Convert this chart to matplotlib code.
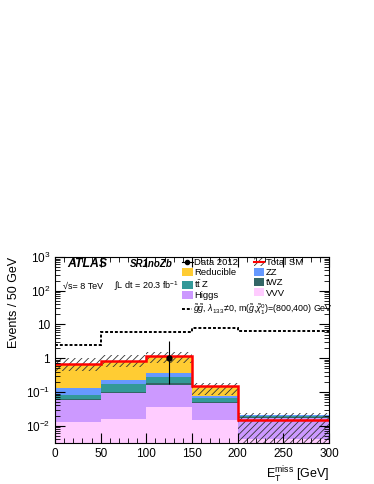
import matplotlib
matplotlib.use("Agg")
import matplotlib.pyplot as plt
import numpy as np
from matplotlib.patches import Patch
from matplotlib.lines import Line2D
from matplotlib.ticker import FixedLocator, MultipleLocator, LogLocator, NullFormatter

plt.rcParams['font.family'] = ['Liberation Sans', 'DejaVu Sans']
plt.rcParams['mathtext.fontset'] = 'custom'
plt.rcParams['mathtext.rm'] = 'Liberation Sans'
plt.rcParams['mathtext.it'] = 'Liberation Sans:italic'
plt.rcParams['hatch.linewidth'] = 0.6

# binning in E_T^miss [GeV]
edges = [0, 50, 100, 150, 200, 300]

# stacked backgrounds (bottom -> top)
vvv = [0.013, 0.016, 0.035, 0.015, 0.004]
higgs = [0.043, 0.077, 0.125, 0.032, 0.013]
twz = [0.006, 0.007, 0.020, 0.003, 0.0005]
ttz = [0.019, 0.070, 0.100, 0.016, 0.0015]
zz = [0.049, 0.060, 0.080, 0.011, 0.002]
reducible = [0.550, 0.610, 0.810, 0.078, 0.0]

total_sm = [0.68, 0.84, 1.17, 0.155, 0.015]
unc_low = [0.41, 0.55, 0.74, 0.083, 0.003]
unc_high = [1.00, 1.27, 1.48, 0.18, 0.023]

signal = [2.5, 5.9, 5.9, 8.1, 6.6]

data_x = [125]
data_y = [1.0]
data_err_lo = [0.83]
data_err_hi = [2.3]

components = [
    ("VVV", vvv, "#ffccff"),
    ("Higgs", higgs, "#cc99ff"),
    ("tWZ", twz, "#336666"),
    (r"t$\bar{\rm t}$ Z", ttz, "#339999"),
    ("ZZ", zz, "#6699ff"),
    ("Reducible", reducible, "#ffcc33"),
]

fig = plt.figure(figsize=(3.74, 4.84), dpi=100)
ax = fig.add_axes([0.147, 0.085, 0.733, 0.384])

bottom = np.zeros(len(edges) - 1)
handles = {}
for name, vals, col in components:
    top = bottom + np.array(vals)
    ax.stairs(top, edges, baseline=bottom, fill=True, color=col, linewidth=0)
    handles[name] = Patch(facecolor=col, edgecolor='none')
    bottom = top

ax.stairs(unc_high, edges, baseline=unc_low, fill=True, facecolor='none',
          edgecolor='#333333', hatch='/////', linewidth=0)
ax.stairs(total_sm, edges, baseline=None, color='red', linewidth=1.8)
ax.stairs(signal, edges, baseline=None, color='black', linewidth=1.4,
          linestyle=(0, (1.5, 1)))

ax.errorbar(data_x, data_y, yerr=[data_err_lo, data_err_hi], fmt='o', color='black',
            markersize=3.5, elinewidth=0.8, capsize=0)

ax.set_yscale('log')
ax.set_xlim(0, 300)
ax.set_ylim(3.1e-3, 1000)

ax.yaxis.set_major_locator(FixedLocator([1e-2, 1e-1, 1, 10, 1e2, 1e3]))
ax.set_yticklabels([r"10$^{-2}$", r"10$^{-1}$", "1", "10", r"10$^{2}$", r"10$^{3}$"])
ax.yaxis.set_minor_locator(LogLocator(base=10, subs=np.arange(2, 10)))
ax.yaxis.set_minor_formatter(NullFormatter())
ax.xaxis.set_major_locator(MultipleLocator(50))
ax.xaxis.set_minor_locator(MultipleLocator(10))
ax.tick_params(which='both', direction='in', top=True, right=True, labelsize=8.5)
ax.tick_params(which='major', length=7)
ax.tick_params(which='minor', length=3.5)

ax.set_ylabel("Events / 50 GeV", fontsize=9, loc='top')
ax.set_xlabel(r"E$_{\rm T}^{\rm miss}$ [GeV]", fontsize=9, loc='right')

ax.text(0.045, 0.962, "ATLAS", transform=ax.transAxes, fontsize=8.8,
        fontweight='bold', fontstyle='italic', va='center')
ax.text(0.275, 0.962, "SR1noZb", transform=ax.transAxes, fontsize=7,
        fontweight='bold', fontstyle='italic', va='center')
ax.text(0.03, 0.844, "\u221as= 8 TeV", transform=ax.transAxes, fontsize=6.5, va='center')
ax.text(0.215, 0.844, r"$\int$L dt = 20.3 fb$^{-1}$", transform=ax.transAxes,
        fontsize=6.5, va='center')

h_data = Line2D([], [], marker='o', color='black', markersize=3, linestyle='-', linewidth=0.8)
h_tot = (Patch(facecolor='none', edgecolor='#333333', hatch='/////', linewidth=0),
         Line2D([], [], color='red', linewidth=1.5))
leg_handles = [h_data, handles["Reducible"], handles[r"t$\bar{\rm t}$ Z"], handles["Higgs"],
               h_tot, handles["ZZ"], handles["tWZ"], handles["VVV"]]
leg_labels = ["Data 2012", "Reducible", r"t$\bar{\rm t}$ Z", "Higgs",
              "Total SM", "ZZ", "tWZ", "VVV"]
leg = ax.legend(leg_handles, leg_labels, ncol=2, frameon=False, fontsize=6.8,
                loc='upper left', bbox_to_anchor=(0.44, 1.03), handlelength=1.1,
                handleheight=0.9, handletextpad=0.2, columnspacing=1.6,
                labelspacing=0.1, borderpad=0.2)
ax.add_artist(leg)
h_sig = Line2D([], [], color='black', linewidth=1.4, linestyle=(0, (1.5, 1)))
ax.legend([h_sig], [r"$\tilde{g}\tilde{g}$, $\lambda_{133}\!\neq\!0$, m($\tilde{g}$,$\tilde{\chi}_1^0$)=(800,400) GeV"],
          frameon=False, fontsize=6.4, loc='upper left', bbox_to_anchor=(0.44, 0.79),
          handlelength=1.1, handletextpad=0.2, borderpad=0.2)

fig.savefig("out.png", dpi=100)
